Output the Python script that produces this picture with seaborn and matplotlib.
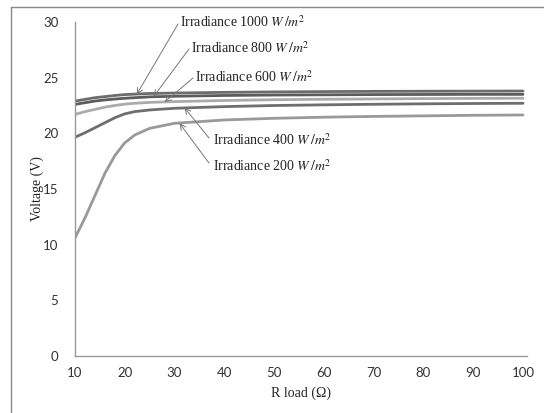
import matplotlib
matplotlib.use("Agg")
import matplotlib.pyplot as plt
import seaborn as sns
import pandas as pd
from matplotlib.lines import Line2D

r_load = [10, 12, 14, 16, 18, 20, 22, 25, 30, 40, 50, 60, 70, 80, 90, 100]
v_1000 = [22.9, 23.05, 23.2, 23.3, 23.4, 23.48, 23.52, 23.58, 23.62, 23.68, 23.72, 23.75, 23.77, 23.78, 23.79, 23.8]
v_800 = [22.6, 22.75, 22.9, 23.0, 23.08, 23.15, 23.2, 23.28, 23.33, 23.4, 23.44, 23.46, 23.48, 23.49, 23.5, 23.5]
v_600 = [21.7, 21.95, 22.15, 22.35, 22.5, 22.62, 22.7, 22.78, 22.85, 22.95, 23.02, 23.06, 23.09, 23.12, 23.14, 23.15]
v_400 = [19.65, 20.05, 20.5, 20.95, 21.4, 21.75, 21.95, 22.1, 22.25, 22.4, 22.5, 22.56, 22.61, 22.65, 22.68, 22.7]
v_200 = [10.6, 12.4, 14.4, 16.4, 18.0, 19.15, 19.85, 20.45, 20.9, 21.2, 21.35, 21.45, 21.52, 21.57, 21.62, 21.65]
series_names = ["1000", "800", "600", "400", "200"]
series_values = [v_1000, v_800, v_600, v_400, v_200]
colors = ["#6c6c6c", "#5c5c5c", "#ababab", "#6e6e6e", "#999999"]

rows = []
for name, vals in zip(series_names, series_values):
    for x, v in zip(r_load, vals):
        rows.append({"R": x, "V": v, "irr": name})
df = pd.DataFrame(rows)

sns.set_style("white")
plt.rcParams["mathtext.fontset"] = "stix"
plt.rcParams["font.serif"] = ["Liberation Serif", "DejaVu Serif"]

fig = plt.figure(figsize=(5.44, 4.13), dpi=100)
ax = fig.add_axes([75/544, 1-356/413, (527-75)/544, (356-22)/413])

sns.lineplot(data=df, x="R", y="V", hue="irr", palette=dict(zip(series_names, colors)),
             linewidth=2.0, legend=False, ax=ax, sort=True)

ax.set_xlim(10, 100.8)
ax.set_ylim(0, 30)
ax.set_xticks(range(10, 101, 10))
ax.set_yticks(range(0, 31, 5))
for s in ["top", "right"]:
    ax.spines[s].set_visible(False)
for s in ["left", "bottom"]:
    ax.spines[s].set_color("#999999")
    ax.spines[s].set_linewidth(1.0)
ax.tick_params(axis="both", length=0, labelsize=9.5, colors="#333333")
ax.tick_params(axis="x", pad=8)
ax.tick_params(axis="y", pad=12)
for lab in ax.get_xticklabels() + ax.get_yticklabels():
    lab.set_fontfamily(["Lato", "DejaVu Sans"])

serif = ["Liberation Serif", "DejaVu Serif"]
ax.set_xlabel("R load (Ω)", fontfamily=serif, fontsize=10, color="#222222", labelpad=6)
ax.set_ylabel("Voltage (V)", fontfamily=serif, fontsize=10, color="#222222", labelpad=4)
ax.yaxis.set_label_coords(-0.068, 0.5)
ax.xaxis.set_label_coords(0.5, -0.09)

ann = [
    ("Irradiance 1000 $W\\,/m^2$", (22.4, 23.5), (180, 22), (178, 24)),
    ("Irradiance 800 $W\\,/m^2$", (25.8, 23.3), (191, 48), (189, 49)),
    ("Irradiance 600 $W\\,/m^2$", (28.0, 22.8), (195, 77), (193, 78)),
    ("Irradiance 400 $W\\,/m^2$", (32.0, 22.3), (213, 140), (209, 138)),
    ("Irradiance 200 $W\\,/m^2$", (31.0, 20.9), (213, 166), (209, 163)),
]
for text, xy, tpos, apos in ann:
    fig.text(tpos[0]/544, 1-tpos[1]/413, text, fontfamily=serif, fontsize=10,
             color="#222222", va="center", ha="left")
    ax.annotate("", xy=xy, xycoords="data",
                xytext=(apos[0]/544, 1-apos[1]/413), textcoords="figure fraction",
                arrowprops=dict(arrowstyle="->", color="#777777", lw=0.7,
                                shrinkA=0, shrinkB=0))

# outer frame (top and left)
fig.add_artist(Line2D([11/544, 1], [1-7/413, 1-7/413], transform=fig.transFigure,
                      color="#888888", lw=1.0))
fig.add_artist(Line2D([11/544, 11/544], [0, 1-7/413], transform=fig.transFigure,
                      color="#888888", lw=1.0))

fig.savefig("out.png", dpi=100)
